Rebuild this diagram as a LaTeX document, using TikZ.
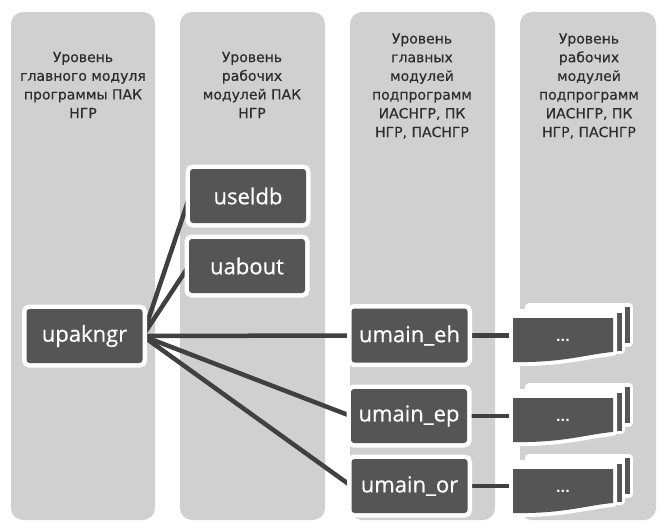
\documentclass[tikz,border=0pt]{standalone}
\usepackage{fontspec}
\setmainfont{DejaVu Sans}
\newfontfamily\headfont[FakeBold=0.4]{DejaVu Sans}
\newfontfamily\boxfont[FakeBold=0.6]{Open Sans}
\usetikzlibrary{positioning}
\definecolor{colgray}{RGB}{208,208,208}
\definecolor{boxgray}{RGB}{85,85,85}
\definecolor{linegray}{RGB}{64,64,64}
\definecolor{headgray}{RGB}{45,45,45}
\pgfdeclarelayer{bg}
\pgfdeclarelayer{links}
\pgfsetlayers{bg,links,main}

\begin{document}
\begin{tikzpicture}[x=1pt, y=-1pt,
  column/.style={fill=colgray, rounded corners=12pt},
  heading/.style={align=center, text=headgray, font=\headfont\fontsize{14}{18.7}\selectfont},
  module/.style={fill=boxgray, rounded corners=3pt, minimum width=116pt, minimum height=54pt, inner sep=0pt,
    text=white, font=\boxfont\fontsize{22}{24}\selectfont, preaction={draw=white, line width=9pt}},
  backsheet/.style={fill=white, draw=white, line width=8pt, line join=round},
  docsheet/.style={fill=boxgray, preaction={draw=white, line width=8pt, line join=round}},
  docpage/.style={minimum width=100pt, minimum height=44pt, inner sep=0pt, text=white, font=\bfseries\fontsize{12}{12}\selectfont},
  link/.style={draw=linegray, line width=4.5pt}]
  \useasboundingbox (0,0) rectangle (661,522);

  % levels
  \begin{pgfonlayer}{bg}
    \fill[column] (11,12) rectangle (155,520);
    \fill[column] (180,12) rectangle (325,520);
    \fill[column] (350,12) rectangle (495,520);
    \fill[column] (520,12) rectangle (656,520);
  \end{pgfonlayer}
  \node[heading] (h1) at (83,85) {Уровень\\главного модуля\\программы ПАК\\НГР};
  \node[heading] (h2) at (252,85) {Уровень\\рабочих\\модулей ПАК\\НГР};
  \node[heading] (h3) at (422,86) {Уровень\\главных\\модулей\\подпрограмм\\ИАСНГР, ПК\\НГР, ПАСНГР};
  \node[heading] (h4) at (589,86) {Уровень\\рабочих\\модулей\\подпрограмм\\ИАСНГР, ПК\\НГР, ПАСНГР};

  % modules
  \node[module] (upakngr) at (84.5,336) {upakngr};
  \node[module] (useldb) at (248,196) {useldb};
  \node[module] (uabout) at (247,266) {uabout};
  \node[module] (umaineh) at (409.5,335.5) {umain\_eh};
  \node[module] (umainep) at (409,416) {umain\_ep};
  \node[module] (umainor) at (409.5,486) {umain\_or};

  % stacks of documents
  \foreach \n/\y in {d1/340, d2/420, d3/491} {
    \begin{scope}[shift={(563,\y)}]
      \fill[backsheet] (-34,-33) rectangle (66,3);
      \fill[backsheet] (-42,-27) rectangle (58,10);
      \fill[boxgray] (62,-33) rectangle (66.5,3);
      \fill[boxgray] (54,-27) rectangle (58.5,11);
      \fill[docsheet] (-50,-22) -- (50,-22) -- (50,12)
        .. controls (25,14) and (0,23) .. (-50,22) -- cycle;
    \end{scope}
    \node[docpage] (\n) at (563,\y) {...};
  }

  % links
  \begin{pgfonlayer}{links}
    \foreach \m in {useldb, uabout, umaineh, umainep, umainor}
      \draw[link] (upakngr.east) -- (\m.west);
    \draw[link] (umaineh.east) -- (umaineh.east -| d1.west);
    \draw[link] (umainep.east) -- (umainep.east -| d2.west);
    \draw[link] (umainor.east) -- (umainor.east -| d3.west);
  \end{pgfonlayer}
\end{tikzpicture}
\end{document}
